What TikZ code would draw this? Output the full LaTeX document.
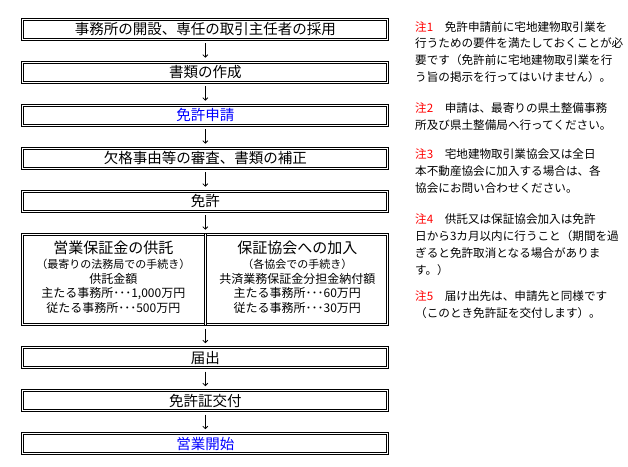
\documentclass[tikz,border=0pt]{standalone}
\usepackage{fontspec}
\setmainfont{Noto Sans CJK JP}
\usetikzlibrary{arrows.meta,positioning}

\begin{document}
\begin{tikzpicture}[
    x=1pt, y=-1pt,
    node distance=22pt,
    stepbox/.style={
        draw,
        double,
        double distance=1pt,
        line width=1pt,
        minimum width=365pt,
        minimum height=20pt,
        inner sep=0pt,
        text height=12.6pt,
        text depth=1.9pt,
        font=\fontsize{14.5}{16}\selectfont
    },
    inbox/.style={
        align=center,
        inner sep=0pt,
        font=\fontsize{12}{14.7}\selectfont
    },
    note/.style={
        anchor=north west,
        align=left,
        inner sep=0pt,
        font=\fontsize{11.6}{16.7}\selectfont
    },
    flow/.style={-{Straight Barb[length=2.5pt,width=5pt]},line width=0.8pt,
        shorten <=3.5pt,shorten >=4pt}
]
\useasboundingbox (0,0) rectangle (628,466);

\node[stepbox] (office) at (205.3,29.2) {事務所の開設、専任の取引主任者の採用};
\node[stepbox,below=of office] (papers) {書類の作成};
\node[stepbox,below=of papers,text=blue] (apply) {免許申請};
\node[stepbox,below=of apply] (review) {欠格事由等の審査、書類の補正};
\node[stepbox,below=of review] (license) {免許};
\node[stepbox,below=of license,minimum height=90.5pt] (split) {};

\node[inbox] (deposit) at ([xshift=-92pt,yshift=2pt]split.center) {%
    {\fontsize{15}{18}\selectfont 営業保証金の供託}\\
    {\fontsize{11}{14.5}\selectfont （最寄りの法務局での手続き）}\\
    供託金額\\
    主たる事務所･･･1,000万円\\
    従たる事務所･･･500万円};
\node[inbox] (assoc) at ([xshift=92pt,yshift=2pt]split.center) {%
    {\fontsize{15}{18}\selectfont 保証協会への加入}\\
    {\fontsize{11}{14.5}\selectfont （各協会での手続き）}\\
    共済業務保証金分担金納付額\\
    主たる事務所･･･60万円\\
    従たる事務所･･･30万円};
\draw[double,double distance=1pt,line width=1pt] (split.north) -- (split.south);

\node[stepbox,below=of split] (notify) {届出};
\node[stepbox,below=of notify] (issue) {免許証交付};
\node[stepbox,below=of issue,text=blue] (start) {営業開始};

\draw[flow] (office) -- (papers);
\draw[flow] (papers) -- (apply);
\draw[flow] (apply) -- (review);
\draw[flow] (review) -- (license);
\draw[flow] (license) -- (split);
\draw[flow] (split) -- (notify);
\draw[flow] (notify) -- (issue);
\draw[flow] (issue) -- (start);

% notes on the right
\node[note] (note1) at (415,21) {%
    \textcolor{red}{注1}\hspace{1em}免許申請前に宅地建物取引業を\\
    行うための要件を満たしておくことが必\\
    要です（免許前に宅地建物取引業を行\\
    う旨の掲示を行ってはいけません）。};
\node[note] (note2) at (415,102.7) {%
    \textcolor{red}{注2}\hspace{1em}申請は、最寄りの県土整備事務\\
    所及び県土整備局へ行ってください。};
\node[note] (note3) at (415,149) {%
    \textcolor{red}{注3}\hspace{1em}宅地建物取引業協会又は全日\\
    本不動産協会に加入する場合は、各\\
    協会にお問い合わせください。};
\node[note] (note4) at (415,214) {%
    \textcolor{red}{注4}\hspace{1em}供託又は保証協会加入は免許\\
    日から3カ月以内に行うこと（期間を過\\
    ぎると免許取消となる場合がありま\\
    す。）};
\node[note] (note5) at (415,290.7) {%
    \textcolor{red}{注5}\hspace{1em}届け出先は、申請先と同様です\\
    （このとき免許証を交付します）。};
\end{tikzpicture}
\end{document}
